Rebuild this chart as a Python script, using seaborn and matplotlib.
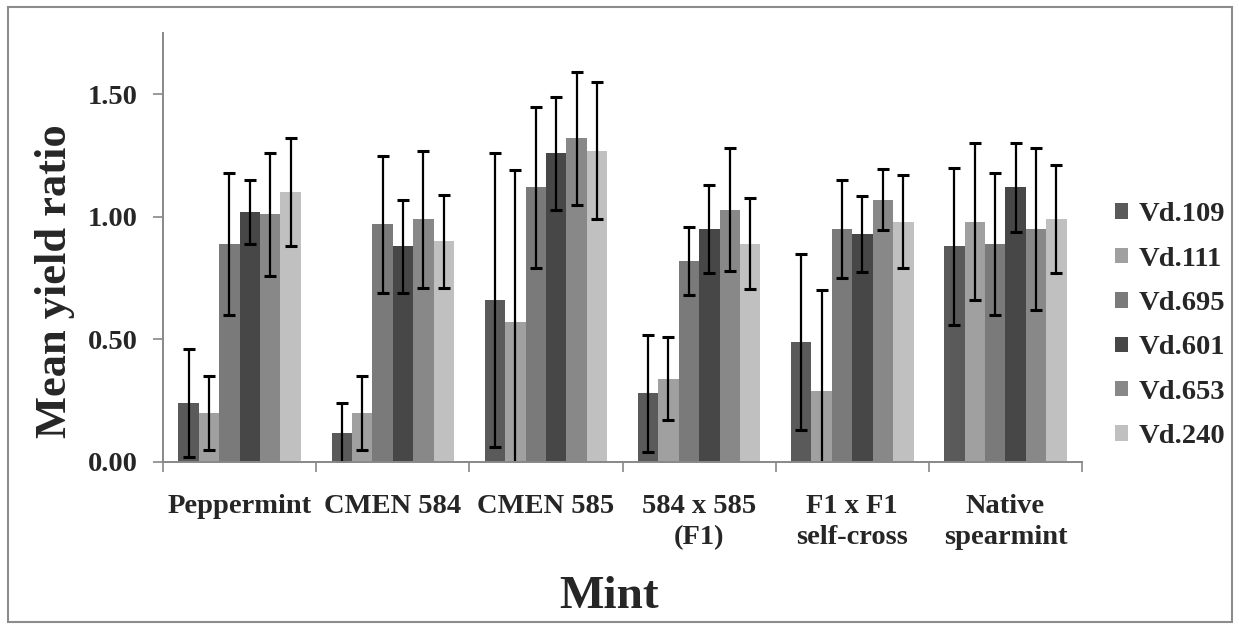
#!/usr/bin/env python
"""
grouped bar chart of mean yield ratio per mint type and Vd isolate
"""

import numpy as np
import pandas as pd
import seaborn as sns
import matplotlib.pyplot as plt
from matplotlib.patches import Rectangle

## data
mints = ["Peppermint", "CMEN 584", "CMEN 585", "584 x 585\n(F1)",
         "F1 x F1\nself-cross", "Native\nspearmint"]
varieties = ["Vd.109", "Vd.111", "Vd.695", "Vd.601", "Vd.653", "Vd.240"]

vd109 = [0.24, 0.12, 0.66, 0.28, 0.49, 0.88]
vd111 = [0.20, 0.20, 0.57, 0.34, 0.29, 0.98]
vd695 = [0.89, 0.97, 1.12, 0.82, 0.95, 0.89]
vd601 = [1.02, 0.88, 1.26, 0.95, 0.93, 1.12]
vd653 = [1.01, 0.99, 1.32, 1.03, 1.07, 0.95]
vd240 = [1.10, 0.90, 1.27, 0.89, 0.98, 0.99]

err109 = [0.22, 0.12, 0.60, 0.24, 0.36, 0.32]
err111 = [0.15, 0.15, 0.62, 0.17, 0.41, 0.32]
err695 = [0.29, 0.28, 0.33, 0.14, 0.20, 0.29]
err601 = [0.13, 0.19, 0.23, 0.18, 0.155, 0.18]
err653 = [0.25, 0.28, 0.27, 0.25, 0.125, 0.33]
err240 = [0.22, 0.19, 0.28, 0.185, 0.19, 0.22]

colors = ["#5a5a5a", "#a0a0a0", "#7a7a7a", "#474747", "#888888", "#c0c0c0"]

## plot style, fonts
sns.set_style("ticks")
plt.rcParams["font.family"] = ["Liberation Serif", "DejaVu Serif"]
plt.rcParams["font.weight"] = "bold"


def build_frame():
    values = [vd109, vd111, vd695, vd601, vd653, vd240]
    rows = []
    for var, vals in zip(varieties, values):
        for mint, v in zip(mints, vals):
            rows.append({"Mint": mint, "ratio": v, "variety": var})
    return pd.DataFrame(rows)


def create_plot(df):
    fig = plt.figure(figsize=(12.39, 6.3), dpi=100)
    ax = fig.add_axes([0.1316, 0.2667, 0.7417, 0.6809])

    sns.barplot(data=df, x="Mint", y="ratio", hue="variety", order=mints,
                hue_order=varieties, palette=dict(zip(varieties, colors)),
                errorbar=None, width=0.8, saturation=1, linewidth=0, ax=ax)

    # error bars on top of each bar
    errs = [err109, err111, err695, err601, err653, err240]
    for cont, e in zip(ax.containers, errs):
        xs = [p.get_x() + p.get_width() / 2 for p in cont]
        ys = [p.get_height() for p in cont]
        ax.errorbar(xs, ys, yerr=e, fmt="none", ecolor="black",
                    elinewidth=1.6, capsize=4.5, capthick=2.2)

    ax.set_xlim(-0.5, 5.5)
    ax.set_ylim(0, 1.75)
    ax.set_yticks([0, 0.5, 1.0, 1.5])
    ax.set_yticklabels(["{:.2f}".format(t) for t in [0, 0.5, 1.0, 1.5]])

    # category labels centred, tick marks between the groups
    ax.tick_params(axis="x", which="major", length=0, pad=23, labelsize=20.5)
    ax.set_xticks(np.arange(-0.5, 6, 1), minor=True)
    ax.tick_params(axis="x", which="minor", length=7, width=1.2, color="#888888")
    ax.tick_params(axis="y", length=7, width=1.2, color="#888888", pad=11,
                   labelsize=20.5)
    for lab in ax.get_xticklabels() + ax.get_yticklabels():
        lab.set_fontweight("bold")
    for lab in ax.get_xticklabels():
        lab.set_linespacing(1.3)

    sns.despine(ax=ax)
    for side in ["left", "bottom"]:
        ax.spines[side].set_color("#888888")
        ax.spines[side].set_linewidth(1.4)

    ax.set_xlabel("Mint", fontsize=34, fontweight="bold")
    ax.set_ylabel("Mean yield ratio", fontsize=32, fontweight="bold")
    ax.xaxis.set_label_coords(0.485, -0.265)
    ax.yaxis.set_label_coords(-0.0958, 0.422)

    handles, labels = ax.get_legend_handles_labels()
    ax.legend(handles, labels, loc="center left", bbox_to_anchor=(0.9, 0.483),
              bbox_transform=fig.transFigure, frameon=False, fontsize=20.5,
              handlelength=0.46, handleheight=0.46, handletextpad=0.35,
              labelspacing=0.68, borderpad=0, borderaxespad=0)

    # outer frame around the whole chart
    fig.patches.append(Rectangle((8 / 1239, 8 / 630), 1224 / 1239, 615 / 630,
                                 transform=fig.transFigure, fill=False,
                                 edgecolor="#8c8c8c", linewidth=1.5))

    fig.savefig("out.png", dpi=100)


if __name__ == "__main__":
    df = build_frame()
    create_plot(df)
